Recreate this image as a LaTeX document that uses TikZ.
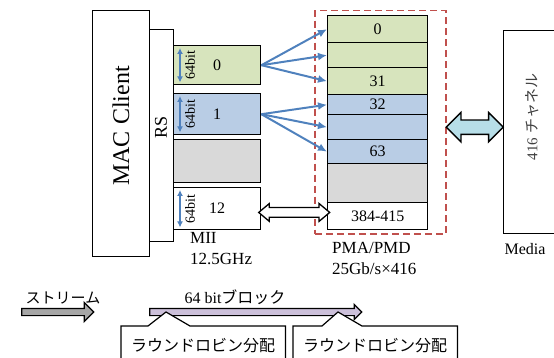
\documentclass[tikz,border=0pt]{standalone}
\usepackage{fontspec}
\setmainfont{Liberation Serif}
\newfontfamily\jp{Noto Sans CJK JP}
\usetikzlibrary{arrows.meta,shapes.arrows,calc}
\definecolor{lanegreen}{HTML}{D7E4BD}
\definecolor{laneblue}{HTML}{B9CDE5}
\definecolor{lanegray}{HTML}{D9D9D9}
\definecolor{fanblue}{HTML}{4F81BD}
\definecolor{dashred}{HTML}{C0504D}
\definecolor{linkcyan}{HTML}{B7DEE8}
\definecolor{blockpurple}{HTML}{CCC0DA}
\definecolor{streamgray}{HTML}{A6A6A6}
\tikzset{
  box/.style={draw, line width=1.4pt, anchor=north west, inner sep=0pt,
    font=\fontsize{16}{19}\selectfont},
  pmaframe/.style={draw=dashred, dash pattern=on 7pt off 4pt, line width=1.5pt,
    anchor=north west, inner sep=0pt},
  fanout/.style={draw=fanblue, line width=2pt, -{Latex[length=9pt,width=8pt]}},
  bitarrow/.style={draw=fanblue, line width=1.8pt, {Latex[length=6pt,width=6pt]}-{Latex[length=6pt,width=6pt]}},
  bitlbl/.style={rotate=90, inner sep=0pt, font=\fontsize{14}{16}\selectfont},
  hollowlink/.style={double arrow, draw, fill=white, line width=1.3pt, inner sep=0pt,
    text height=8.5pt, text depth=0pt, double arrow head extend=4, double arrow tip angle=80},
  medialink/.style={double arrow, draw, fill=linkcyan, line width=1.4pt, inner sep=0pt,
    text height=13pt, text depth=0pt, double arrow head extend=7.5},
  blockarrow/.style={single arrow, draw, line width=1.2pt, inner sep=0pt, text depth=0pt},
  txt/.style={inner sep=0pt, font=\fontsize{17}{21}\selectfont},
  rrbox/.style={anchor=north west, inner sep=0pt, minimum width=164, minimum height=39,
    font=\jp\fontsize{16}{19}\selectfont},
  calloutline/.style={draw, line width=1.2pt}
}
\begin{document}
\begin{tikzpicture}[x=1pt, y={(0pt,-1pt)}]
  \useasboundingbox (0,0) rectangle (554,358);
  % MAC Client と RS
  \node[box, minimum width=57, minimum height=246] (mac) at (92,10) {};
  \node[box, minimum width=24, minimum height=212] (rs) at (149,29) {};
  \node[rotate=90, inner sep=0pt, font=\fontsize{24}{28}\selectfont] (maclbl) at (121,126) {MAC Client};
  \node[rotate=90, inner sep=0pt, font=\fontsize{18}{22}\selectfont] (rslbl) at (161,127) {RS};
  % MII レーン
  \node[box, fill=lanegreen, minimum width=87, minimum height=39] (l0) at (173,45) {0};
  \node[box, fill=laneblue, minimum width=87, minimum height=41] (l1) at (173,93) {1};
  \node[box, fill=lanegray, minimum width=87, minimum height=43] (lg) at (173,139) {};
  \node[box, fill=white, minimum width=87, minimum height=42] (l12) at (173,187) {12};
  \foreach \l in {l0,l1,l12} {
    \draw[bitarrow] ([xshift=7pt,yshift=-3pt]\l.north west) -- ([xshift=7pt,yshift=3pt]\l.south west);
    \node[bitlbl] at ([xshift=17pt]\l.west) {64bit};
  }
  \node[txt, anchor=north west, align=left] (miilbl) at (190,232) {MII\\12.5GHz};
  % PMA/PMD
  \node[pmaframe, minimum width=131, minimum height=223] (pma) at (314,10) {};
  \foreach \n/\y/\h/\c/\t in {r0/15/27/lanegreen/0, r1/42/25/lanegreen/, r2/67/27/lanegreen/31,
      r3/94/20/laneblue/32, r4/114/25/laneblue/, r5/139/24/laneblue/63,
      r6/163/39/lanegray/, r7/202/27/white/384-415}
    \node[box, fill=\c, minimum width=100, minimum height=\h] (\n) at (327,\y) {\t};
  \node[txt, anchor=north west, align=left] (pmalbl) at (332,242) {PMA/PMD\\25Gb/s×416};
  \foreach \r in {r0,r1,r2} \draw[fanout] (l0.east) -- (\r.west);
  \foreach \r in {r3,r4,r5} \draw[fanout] (l1.east) -- (\r.west);
  \node[hollowlink, minimum height=71] (lnk) at ($(l12.east)!0.5!(r7.west)$) {};
  % Media
  \node[box, minimum width=60, minimum height=203] (media) at (503,30) {};
  \node[rotate=90, inner sep=0pt, text=black!75, font=\fontsize{15}{18}\selectfont] (chlbl) at (532,117) {416 {\jp チャネル}};
  \node[anchor=base, inner sep=0pt, font=\fontsize{16}{19}\selectfont] (medialbl) at (525,254) {Media};
  \node[medialink, minimum height=57] (mlnk) at ($(pma.east)!0.5!(media.west)$) {};
  % 凡例
  \node[blockarrow, fill=streamgray, minimum height=72, text height=6pt,
    single arrow head extend=6] (strm) at (56,312) {};
  \node[anchor=base, inner sep=0pt, font=\jp\fontsize{15}{18}\selectfont] (strmlbl) at (63,303) {ストリーム};
  \node[blockarrow, fill=blockpurple, minimum height=212, text height=6pt,
    single arrow head extend=4] (blk) at (254,312) {};
  \node[anchor=base, inner sep=0pt, font=\fontsize{16}{19}\selectfont] (blklbl) at (235,303) {64 bit{\jp ブロック}};
  \node[rrbox] (rr1) at (121,326) {ラウンドロビン分配};
  \node[rrbox] (rr2) at (293,326) {ラウンドロビン分配};
  \coordinate (tip1) at (166,312);
  \coordinate (tip2) at (338,312);
  \fill[white] ([xshift=27pt]rr1.north west) -- (tip1) -- ([xshift=69pt]rr1.north west) -- cycle;
  \draw[calloutline] ([xshift=27pt]rr1.north west) -- (tip1) -- ([xshift=69pt]rr1.north west)
    -| (rr1.south east) -| (rr1.north west) -- cycle;
  \fill[white] ([xshift=29pt]rr2.north west) -- (tip2) -- ([xshift=69pt]rr2.north west) -- cycle;
  \draw[calloutline] ([xshift=29pt]rr2.north west) -- (tip2) -- ([xshift=69pt]rr2.north west)
    -| (rr2.south east) -| (rr2.north west) -- cycle;
\end{tikzpicture}
\end{document}
